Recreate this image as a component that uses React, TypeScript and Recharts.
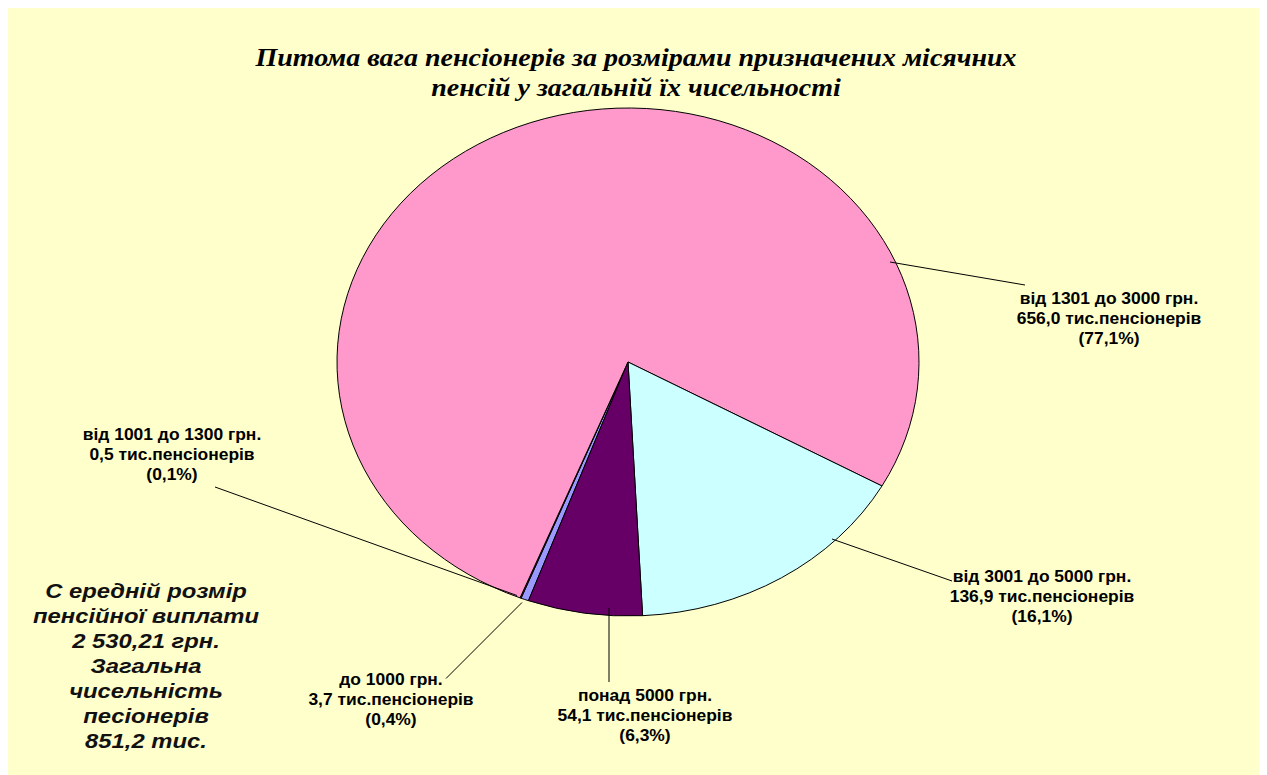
import { PieChart, Pie, Cell } from "recharts";

const ranges = [
  "до 1000 грн.",
  "від 1001 до 1300 грн.",
  "від 1301 до 3000 грн.",
  "від 3001 до 5000 грн.",
  "понад 5000 грн.",
];
const pensioners = [3.7, 0.5, 656.0, 136.9, 54.1];
const shares = ["0,4%", "0,1%", "77,1%", "16,1%", "6,3%"];
const colors = ["#9999FF", "#993366", "#FF99CC", "#CCFFFF", "#660066"];

const titleLines = [
  "Питома вага пенсіонерів за розмірами призначених місячних",
  "пенсій у загальній їх чисельності",
];
const noteLines = [
  "С ередній розмір",
  "пенсійної виплати",
  "2 530,21 грн.",
  "Загальна",
  "чисельність",
  "песіонерів",
  "851,2 тис.",
];

const data = ranges.map((name, i) => ({ name, value: pensioners[i] }));

// Excel stretched the pie into an ellipse
const RX = 291;
const SQUASH = 254 / 291;

// label placement relative to the pie centre: text centre + leader line
const labelLayout = [
  { tx: -237, ty: 318, from: [-106, 240.5], to: [-182, 316.5] },
  { tx: -456, ty: 73, from: [-111, 233.5], to: [-413, 125] },
  { tx: 481, ty: -63, from: [262, -100], to: [397, -77] },
  { tx: 414, ty: 215, from: [204, 177], to: [324, 219] },
  { tx: 17, ty: 334, from: [-19, 246], to: [-19, 320] },
];

function pt(cx: number, cy: number, r: number, deg: number) {
  const a = (deg * Math.PI) / 180;
  return [cx + r * Math.cos(a), cy - r * SQUASH * Math.sin(a)];
}

function EllipseSector(props: any) {
  const { cx, cy, outerRadius, startAngle, endAngle, fill } = props;
  const [x1, y1] = pt(cx, cy, outerRadius, startAngle);
  const [x2, y2] = pt(cx, cy, outerRadius, endAngle);
  const large = Math.abs(endAngle - startAngle) > 180 ? 1 : 0;
  const sweep = startAngle > endAngle ? 1 : 0;
  const d = `M${cx},${cy} L${x1},${y1} A${outerRadius},${outerRadius * SQUASH} 0 ${large} ${sweep} ${x2},${y2} Z`;
  return <path d={d} fill={fill} stroke="#000" strokeWidth={1} />;
}

function renderLabel(props: any) {
  const { cx, cy, index } = props;
  const l = labelLayout[index];
  const lines = [
    ranges[index],
    `${pensioners[index].toFixed(1).replace(".", ",")} тис.пенсіонерів`,
    `(${shares[index]})`,
  ];
  return (
    <g key={`lbl-${index}`}>
      <line
        x1={cx + l.from[0]}
        y1={cy + l.from[1]}
        x2={cx + l.to[0]}
        y2={cy + l.to[1]}
        stroke="#000"
        strokeWidth={1}
      />
      {lines.map((t, j) => (
        <text
          key={j}
          transform={`translate(${cx + l.tx},${cy + l.ty + j * 20}) scale(1.09,1)`}
          textAnchor="middle"
          dominantBaseline="central"
          fontFamily="'Liberation Sans', Arial, sans-serif"
          fontWeight="bold"
          fontSize={16}
          fill="#000"
        >
          {t}
        </text>
      ))}
    </g>
  );
}

export default function App() {
  return (
    <div
      style={{
        position: "relative",
        width: 1260,
        height: 768,
        margin: "-1px 0 0 -1px",
        background: "#FFFFCC",
      }}
    >
      <div
        style={{
          position: "absolute",
          left: 0,
          top: 36,
          width: 1258,
          textAlign: "center",
          fontFamily: "'Liberation Serif', 'Times New Roman', serif",
          fontStyle: "italic",
          fontWeight: "bold",
          fontSize: 25,
          lineHeight: "30px",
          color: "#000",
          transform: "scaleX(1.12)",
          transformOrigin: "629px 0",
        }}
      >
        {titleLines.map((t) => (
          <div key={t}>{t}</div>
        ))}
      </div>
      <div
        style={{
          position: "absolute",
          left: 39,
          top: 572,
          width: 200,
          textAlign: "center",
          fontFamily: "'Liberation Sans', Arial, sans-serif",
          fontStyle: "italic",
          fontWeight: "bold",
          fontSize: 20,
          lineHeight: "25px",
          color: "#111",
          transform: "scaleX(1.19)",
          transformOrigin: "100px 0",
        }}
      >
        {noteLines.map((t) => (
          <div key={t}>{t}</div>
        ))}
      </div>
      <PieChart
        width={1260}
        height={768}
        margin={{ top: 0, right: 0, bottom: 0, left: 0 }}
        style={{ position: "absolute", left: 0, top: 0 }}
      >
        <Pie
          data={data}
          dataKey="value"
          nameKey="name"
          cx={621}
          cy={355}
          outerRadius={RX}
          startAngle={-110}
          endAngle={-470}
          stroke="#000"
          strokeWidth={1}
          shape={EllipseSector}
          label={renderLabel}
          labelLine={false}
          isAnimationActive={false}
        >
          {data.map((d, i) => (
            <Cell key={d.name} fill={colors[i]} />
          ))}
        </Pie>
      </PieChart>
    </div>
  );
}
